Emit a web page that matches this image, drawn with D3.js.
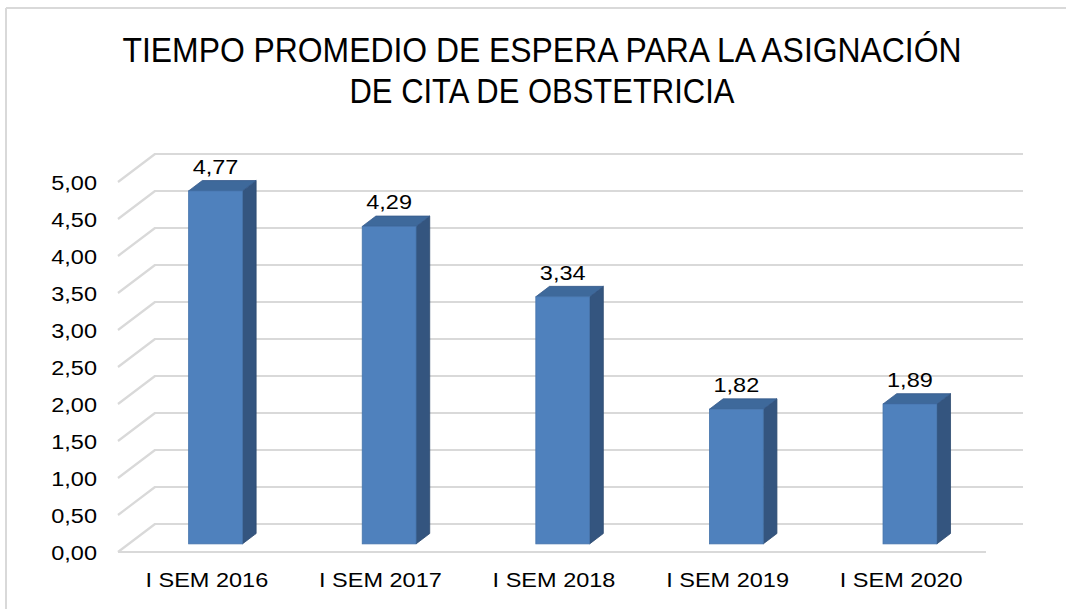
<!DOCTYPE html>
<html>
<head>
<meta charset="utf-8">
<script src="https://cdn.jsdelivr.net/npm/d3@7"></script>
<style>
  html, body { margin: 0; padding: 0; background: #fff; }
  svg { display: block; }
</style>
</head>
<body>
<svg id="chart" width="1066" height="609"></svg>
<script>
// ---- data ----
const categories = ["I SEM 2016", "I SEM 2017", "I SEM 2018", "I SEM 2019", "I SEM 2020"];
const values = [4.77, 4.29, 3.34, 1.82, 1.89];
const valueLabels = ["4,77", "4,29", "3,34", "1,82", "1,89"];
const yTickValues = [0, 0.5, 1, 1.5, 2, 2.5, 3, 3.5, 4, 4.5, 5];
const yTickLabels = ["0,00", "0,50", "1,00", "1,50", "2,00", "2,50", "3,00", "3,50", "4,00", "4,50", "5,00"];
const titleLines = ["TIEMPO PROMEDIO DE ESPERA PARA LA ASIGNACIÓN", "DE CITA DE OBSTETRICIA"];

// ---- layout ----
const svg = d3.select("#chart");
const W = 1066, H = 609;
const frontLeft = 118, frontRight = 986;
const depth = { x: 37, y: -28 };   // floor depth vector (front -> back wall)
const backRight = 1023;
const barFront = 0.29, barBack = 0.66; // bar position within depth

const x = d3.scaleBand().domain(categories).range([frontLeft, frontRight]).padding(0);
const y = d3.scaleLinear().domain([0, 5]).range([552, 182]);
const barW = x.bandwidth() * 0.31;

const grid = "#d9d9d9";
const font = "'Liberation Sans', Arial, sans-serif";
const sx = 1.12;

function stretchText(g, tx, ty, txt, anchor, size) {
  return g.append("text")
    .attr("transform", `translate(${tx},${ty}) scale(${sx},1)`)
    .attr("text-anchor", anchor)
    .attr("font-family", font)
    .attr("font-size", size)
    .attr("fill", "#000")
    .text(txt);
}

// border (top + left)
svg.append("line").attr("x1", 6).attr("y1", 8).attr("x2", W).attr("y2", 8)
  .attr("stroke", grid).attr("stroke-width", 2);
svg.append("line").attr("x1", 6).attr("y1", 8).attr("x2", 6).attr("y2", H)
  .attr("stroke", grid).attr("stroke-width", 2);

// title
const titleG = svg.append("g");
const titleBase = [62, 103];
const titleWidth = [839, 385];
titleLines.forEach((t, i) => {
  titleG.append("text")
    .attr("x", 542)
    .attr("y", titleBase[i])
    .attr("text-anchor", "middle")
    .attr("font-family", "'Liberation Sans Narrow', 'Arial Narrow', 'Liberation Sans', sans-serif")
    .attr("font-size", 35)
    .attr("textLength", titleWidth[i])
    .attr("lengthAdjust", "spacingAndGlyphs")
    .attr("fill", "#000")
    .text(t);
});

// gridlines: side wall diagonal + back wall horizontal
const gridG = svg.append("g");
yTickValues.forEach(v => {
  const yf = y(v);
  gridG.append("path")
    .attr("d", `M${frontLeft},${yf} L${frontLeft + depth.x},${yf + depth.y} L${backRight},${yf + depth.y}`)
    .attr("fill", "none").attr("stroke", grid).attr("stroke-width", 2.2)
    .attr("stroke-linejoin", "round");
});
// floor front edge
gridG.append("line")
  .attr("x1", frontLeft).attr("y1", y(0)).attr("x2", frontRight).attr("y2", y(0))
  .attr("stroke", grid).attr("stroke-width", 2.2);

// y labels
const yLabG = svg.append("g");
yTickValues.forEach((v, i) => {
  stretchText(yLabG, 97, y(v) + 7.5, yTickLabels[i], "end", 21);
});

// bars
const barG = svg.append("g");
const fdx = depth.x * barFront, fdy = depth.y * barFront;
const bdx = depth.x * (barBack - barFront), bdy = depth.y * (barBack - barFront);
categories.forEach((c, i) => {
  const cx = x(c) + x.bandwidth() / 2;
  const x0 = cx - barW / 2 + fdx;
  const x1 = cx + barW / 2 + fdx;
  const yb = y(0) + fdy;
  const yt = y(values[i]) + fdy;
  // side
  barG.append("path")
    .attr("d", `M${x1},${yb} L${x1 + bdx},${yb + bdy} L${x1 + bdx},${yt + bdy} L${x1},${yt} Z`)
    .attr("fill", "#34557f").attr("stroke", "#2d4a70").attr("stroke-width", 0.8);
  // top
  barG.append("path")
    .attr("d", `M${x0},${yt} L${x0 + bdx},${yt + bdy} L${x1 + bdx},${yt + bdy} L${x1},${yt} Z`)
    .attr("fill", "#3e699b").attr("stroke", "#35598a").attr("stroke-width", 0.8);
  // front
  barG.append("rect")
    .attr("x", x0).attr("y", yt).attr("width", barW).attr("height", yb - yt)
    .attr("fill", "#4f81bd").attr("stroke", "#4674ab").attr("stroke-width", 0.8);
  // value label
  stretchText(barG, (x0 + x1) / 2, yt - 17, valueLabels[i], "middle", 21);
});

// category labels
const xLabG = svg.append("g");
categories.forEach(c => {
  stretchText(xLabG, x(c) + x.bandwidth() / 2 + 2, 587, c, "middle", 21);
});
</script>
</body>
</html>
